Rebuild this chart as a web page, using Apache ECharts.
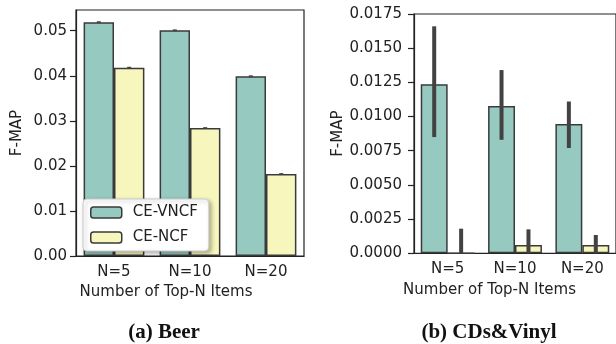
<!DOCTYPE html>
<html>
<head>
<meta charset="utf-8">
<script src="https://cdn.jsdelivr.net/npm/echarts@6/dist/echarts.min.js"></script>
<style>
html,body{margin:0;padding:0;background:#fff;}
#c{width:616px;height:344px;}
</style>
</head>
<body>
<div id="c"></div>
<script>
// ---- data ----
var categories = ['N=5', 'N=10', 'N=20'];
var seriesNames = ['CE-VNCF', 'CE-NCF'];

var beerVNCF = [0.0519, 0.0501, 0.0399];
var beerVNCFLow = [0.0517, 0.0499, 0.0397];
var beerVNCFHigh = [0.0521, 0.0503, 0.0401];
var beerNCF = [0.0418, 0.0284, 0.0182];
var beerNCFLow = [0.0416, 0.0282, 0.0180];
var beerNCFHigh = [0.0420, 0.0286, 0.0184];

var cdVNCF = [0.01237, 0.01077, 0.00945];
var cdVNCFLow = [0.0085, 0.0083, 0.0077];
var cdVNCFHigh = [0.0166, 0.0134, 0.0111];
var cdNCF = [0.0, 0.0006, 0.0006];
var cdNCFLow = [0.0, 0.0, 0.0];
var cdNCFHigh = [0.0018, 0.00175, 0.00134];

var beerTicks = [0, 0.01, 0.02, 0.03, 0.04, 0.05];
var cdTicks = [0, 0.0025, 0.005, 0.0075, 0.01, 0.0125, 0.015, 0.0175];

var captions = ['(a) Beer', '(b) CDs&Vinyl'];

// ---- style ----
var TEAL = '#96cac1';
var YELLOW = '#f6f6bd';
var EDGE = '#3a3a3a';
var ERR = '#424242';
var FONT = 'DejaVu Sans';
var FS = 15;

function errSeries(gridIdx, low, high, side, width) {
  var data = low.map(function (l, i) { return [i, l, high[i]]; });
  return {
    type: 'custom',
    xAxisIndex: gridIdx, yAxisIndex: gridIdx,
    z: 10,
    silent: true,
    data: data,
    renderItem: function (params, api) {
      var i = api.value(0);
      var p1 = api.coord([i, api.value(1)]);
      var p2 = api.coord([i, api.value(2)]);
      var bw = api.size([1, 0])[0];
      var dx = side * bw * 0.2;
      return {
        type: 'line',
        shape: { x1: p1[0] + dx, y1: p1[1], x2: p2[0] + dx, y2: p2[1] },
        style: { stroke: ERR, lineWidth: width, lineCap: 'butt' }
      };
    }
  };
}

function barSeries(gridIdx, name, data, color) {
  return {
    type: 'bar', name: name,
    xAxisIndex: gridIdx, yAxisIndex: gridIdx,
    data: data,
    barWidth: '40%', barGap: '0%',
    itemStyle: { color: color, borderColor: EDGE, borderWidth: 1.5 },
    emphasis: { disabled: true }
  };
}

function xAxis(gridIdx, nameGap, namePad, labelMargin) {
  return {
    type: 'category', gridIndex: gridIdx, data: categories,
    axisLine: { lineStyle: { color: '#222', width: 1.2 } },
    axisTick: { alignWithLabel: true, length: 5, lineStyle: { color: '#222', width: 1.2 } },
    axisLabel: { color: '#222', fontFamily: FONT, fontSize: FS, margin: labelMargin },
    name: 'Number of Top-N Items',
    nameLocation: 'middle', nameGap: nameGap,
    nameTextStyle: { color: '#222', fontFamily: FONT, fontSize: FS, padding: [0, namePad, 0, 0] }
  };
}

function yAxis(gridIdx, max, ticks, digits, nameGap, margin) {
  return {
    type: 'value', gridIndex: gridIdx, min: 0, max: max,
    splitLine: { show: false },
    axisLine: { show: true, lineStyle: { color: '#222', width: 1.2 } },
    axisTick: { show: true, length: 6, customValues: ticks, lineStyle: { color: '#222', width: 1.2 } },
    axisLabel: {
      color: '#222', fontFamily: FONT, fontSize: FS, margin: margin,
      customValues: ticks,
      formatter: function (v) { return v.toFixed(digits); }
    },
    name: 'F-MAP', nameLocation: 'middle', nameGap: nameGap,
    nameTextStyle: { color: '#222', fontFamily: FONT, fontSize: FS }
  };
}

var chart = echarts.init(document.getElementById('c'), null, { renderer: 'canvas' });
chart.setOption({
  animation: false,
  backgroundColor: '#fff',
  grid: [
    { left: 76, top: 10, width: 228, height: 246, show: true, borderColor: '#222', borderWidth: 1.2, backgroundColor: 'transparent' },
    { left: 414, top: 14, width: 207, height: 239.3, show: true, borderColor: '#222', borderWidth: 1.2, backgroundColor: 'transparent' }
  ],
  title: [
    { text: captions[0], left: 159, top: 317, textAlign: 'center',
      textStyle: { fontFamily: 'Liberation Serif', fontWeight: 'bold', fontSize: 21, color: '#111' } },
    { text: captions[1], left: 484, top: 317, textAlign: 'center',
      textStyle: { fontFamily: 'Liberation Serif', fontWeight: 'bold', fontSize: 21, color: '#111' } }
  ],
  legend: {
    data: seriesNames,
    left: 83, top: 199, orient: 'vertical',
    itemWidth: 31, itemHeight: 11, itemGap: 10,
    padding: [6, 11, 6, 7],
    backgroundColor: '#fff', borderColor: '#cccccc', borderWidth: 1, borderRadius: 4,
    shadowBlur: 4, shadowOffsetX: 2, shadowOffsetY: 2, shadowColor: 'rgba(0,0,0,0.3)',
    textStyle: { fontFamily: FONT, fontSize: FS, color: '#222', padding: [0, 0, 0, 6] },
    itemStyle: { borderColor: EDGE, borderWidth: 1.5 },
    selectedMode: false
  },
  xAxis: [xAxis(0, 29, 48, 9), xAxis(1, 29, 51, 8)],
  yAxis: [yAxis(0, 0.0546, beerTicks, 2, 51, 9), yAxis(1, 0.0175, cdTicks, 4, 67, 12)],
  series: [
    barSeries(0, seriesNames[0], beerVNCF, TEAL),
    barSeries(0, seriesNames[1], beerNCF, YELLOW),
    barSeries(1, seriesNames[0], cdVNCF, TEAL),
    barSeries(1, seriesNames[1], cdNCF, YELLOW),
    errSeries(0, beerVNCFLow, beerVNCFHigh, -1, 4),
    errSeries(0, beerNCFLow, beerNCFHigh, 1, 4),
    errSeries(1, cdVNCFLow, cdVNCFHigh, -1, 4),
    errSeries(1, cdNCFLow, cdNCFHigh, 1, 4)
  ]
});
</script>
</body>
</html>
